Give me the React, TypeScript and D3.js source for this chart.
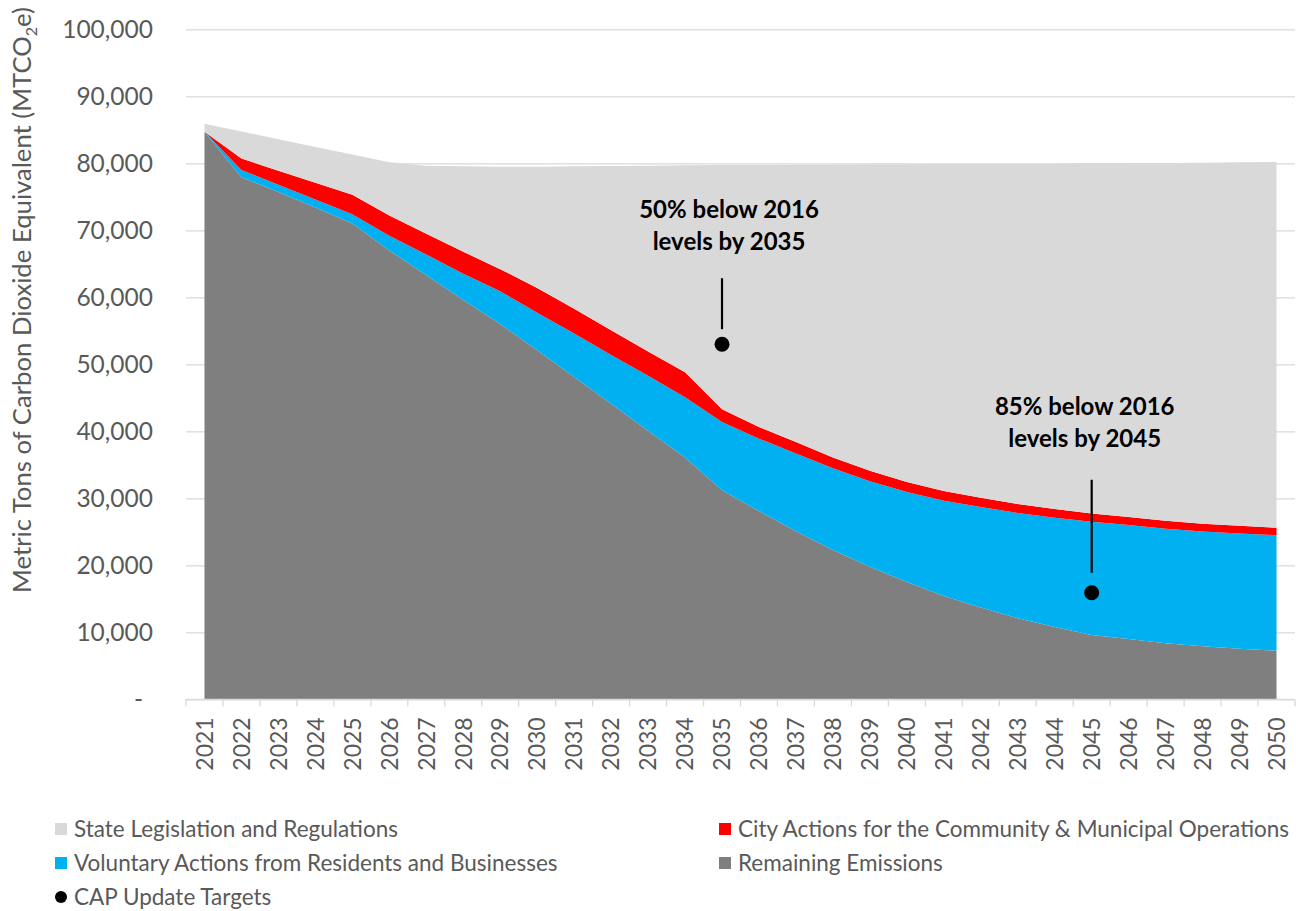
import { useEffect, useRef } from "react";
import * as d3 from "d3";

// categories
const YEARS = [
	2021, 2022, 2023, 2024, 2025, 2026, 2027, 2028, 2029, 2030,
	2031, 2032, 2033, 2034, 2035, 2036, 2037, 2038, 2039, 2040,
	2041, 2042, 2043, 2044, 2045, 2046, 2047, 2048, 2049, 2050,
];

// series values (MTCO2e), stacked bottom -> top
const REMAINING = [
	84700, 77900, 75700, 73400, 71000, 67000, 63300, 59600, 56000, 52100,
	48100, 44100, 40100, 36100, 31200, 28100, 25100, 22300, 19800, 17500,
	15400, 13700, 12100, 10800, 9600, 9000, 8350, 7900, 7550, 7250,
];
const VOLUNTARY = [
	0, 1100, 1100, 1200, 1400, 2200, 3100, 3900, 4900, 5600,
	6500, 7300, 8200, 9000, 10200, 10800, 11600, 12200, 12750, 13450,
	14250, 15000, 15700, 16300, 16900, 17000, 17100, 17150, 17200, 17250,
];
const CITY = [
	0, 1700, 2100, 2500, 2900, 3000, 3100, 3300, 3300, 3700,
	3700, 3700, 3600, 3700, 1900, 1750, 1700, 1600, 1550, 1500,
	1450, 1400, 1350, 1300, 1250, 1200, 1200, 1150, 1150, 1100,
];
const STATE = [
	1200, 4050, 4700, 5350, 6000, 7950, 10150, 12750, 15300, 18100,
	21250, 24500, 27750, 30900, 36450, 39100, 41400, 43700, 45750, 47400,
	48800, 49800, 50800, 51550, 52250, 52800, 53400, 53900, 54250, 54600,
];

// CAP update targets
const TARGET_YEARS = [2035, 2045];
const TARGET_VALUES = [53000, 15900];
const TARGET_LABELS = [
	["50% below 2016", "levels by 2035"],
	["85% below 2016", "levels by 2045"],
];

const Y_TICKS = [0, 10000, 20000, 30000, 40000, 50000, 60000, 70000, 80000, 90000, 100000];

const SERIES = [
	{ key: "remaining", name: "Remaining Emissions", color: "#7f7f7f" },
	{ key: "voluntary", name: "Voluntary Actions from Residents and Businesses", color: "#00b0f0" },
	{ key: "city", name: "City Actions for the Community & Municipal Operations", color: "#ff0000" },
	{ key: "state", name: "State Legislation and Regulations", color: "#d9d9d9" },
];

const FONT = "Lato, 'Open Sans', sans-serif";
const TEXT = "#595959";

export default function App() {
	const ref = useRef<SVGSVGElement>(null);

	useEffect(() => {
		document.body.style.margin = "0";
		const svg = d3.select(ref.current);
		svg.selectAll("*").remove();

		const left = 186, right = 1295, top = 29.3, bottom = 699.3;

		const x = d3.scaleBand<number>().domain(YEARS).range([left, right]);
		const cx = (yr: number) => x(yr)! + x.bandwidth() / 2;
		const y = d3.scaleLinear().domain([0, 100000]).range([bottom, top]);

		// gridlines
		const grid = svg.append("g")
			.attr("transform", `translate(${left},0)`)
			.call(d3.axisLeft(y).tickValues(Y_TICKS).tickSize(-(right - left)).tickFormat(() => ""));
		grid.select(".domain").remove();
		grid.selectAll("line").attr("stroke", "#d9d9d9").attr("stroke-width", 1.3);

		// stacked areas
		const table = YEARS.map((yr, i) => ({
			year: yr,
			remaining: REMAINING[i],
			voluntary: VOLUNTARY[i],
			city: CITY[i],
			state: STATE[i],
		}));
		const stacked = d3.stack<any>().keys(SERIES.map(s => s.key))(table);
		const area = d3.area<any>()
			.x(d => cx(d.data.year))
			.y0(d => y(d[0]))
			.y1(d => y(d[1]));

		svg.append("g")
			.selectAll("path")
			.data(stacked)
			.enter()
			.append("path")
			.attr("d", area)
			.attr("fill", (_, i) => SERIES[i].color);

		// x axis line + tick marks on band edges
		svg.append("line")
			.attr("x1", left).attr("x2", right)
			.attr("y1", bottom).attr("y2", bottom)
			.attr("stroke", "#d9d9d9").attr("stroke-width", 1.3);
		const edges = YEARS.map(yr => x(yr)!).concat([x(YEARS[YEARS.length - 1])! + x.bandwidth()]);
		svg.append("g")
			.selectAll("line")
			.data(edges)
			.enter()
			.append("line")
			.attr("x1", d => d).attr("x2", d => d)
			.attr("y1", bottom).attr("y2", bottom + 7)
			.attr("stroke", "#d9d9d9").attr("stroke-width", 1.3);

		// x labels (rotated)
		const xAxis = svg.append("g")
			.attr("transform", `translate(0,${bottom})`)
			.call(d3.axisBottom(x).tickSize(0).tickFormat(d => String(d)));
		xAxis.select(".domain").remove();
		xAxis.selectAll("text")
			.attr("transform", "rotate(-90)")
			.attr("text-anchor", "end")
			.attr("x", -18)
			.attr("y", 0)
			.attr("dy", "0.36em")
			.attr("fill", TEXT)
			.attr("font-family", FONT)
			.attr("font-size", 23);

		// y labels
		const yAxis = svg.append("g")
			.attr("transform", `translate(${left},0)`)
			.call(d3.axisLeft(y).tickValues(Y_TICKS).tickSize(0).tickPadding(33)
				.tickFormat(d => (+d === 0 ? "-" : d3.format(",")(+d))));
		yAxis.select(".domain").remove();
		yAxis.selectAll("text")
			.attr("fill", TEXT)
			.attr("font-family", FONT)
			.attr("font-size", 24.5)
			.attr("dx", (d: any) => (d === 0 ? -10 : 0));

		// y title
		const title = svg.append("text")
			.attr("transform", "translate(22,300) rotate(-90)")
			.attr("text-anchor", "middle")
			.attr("dy", "0.35em")
			.attr("fill", TEXT)
			.attr("font-family", FONT)
			.attr("font-size", 25.7);
		title.append("tspan").text("Metric Tons of Carbon Dioxide Equivalent (MTCO");
		title.append("tspan").attr("font-size", 16).attr("dy", 6).text("2");
		title.append("tspan").attr("dy", -6).text("e)");

		// targets + annotations
		const notes = [
			{ lineTop: -66, lineBottom: -15, textY: -135, dx: 7 },
			{ lineTop: -113, lineBottom: -20, textY: -186, dx: -7 },
		];
		TARGET_YEARS.forEach((yr, i) => {
			const px = cx(yr);
			const py = y(TARGET_VALUES[i]);
			const n = notes[i];
			svg.append("line")
				.attr("x1", px).attr("x2", px)
				.attr("y1", py + n.lineTop).attr("y2", py + n.lineBottom)
				.attr("stroke", "#000").attr("stroke-width", 2.2);
			svg.append("circle")
				.attr("cx", px).attr("cy", py).attr("r", 7.5)
				.attr("fill", "#000");
			TARGET_LABELS[i].forEach((line, j) => {
				svg.append("text")
					.attr("x", px + n.dx)
					.attr("y", py + n.textY + j * 32)
					.attr("dy", "0.35em")
					.attr("text-anchor", "middle")
					.attr("font-family", FONT)
					.attr("font-weight", "bold")
					.attr("font-size", 24)
					.attr("fill", "#000")
					.text(line);
			});
		});

		// legend
		const legendItems = [
			{ name: SERIES[3].name, color: SERIES[3].color, col: 0, row: 0, dot: false },
			{ name: SERIES[2].name, color: SERIES[2].color, col: 1, row: 0, dot: false },
			{ name: SERIES[1].name, color: SERIES[1].color, col: 0, row: 1, dot: false },
			{ name: SERIES[0].name, color: SERIES[0].color, col: 1, row: 1, dot: false },
			{ name: "CAP Update Targets", color: "#000", col: 0, row: 2, dot: true },
		];
		const colX = [55, 719];
		const legend = svg.append("g");
		legendItems.forEach(it => {
			const g = legend.append("g")
				.attr("transform", `translate(${colX[it.col]},${829 + it.row * 34})`);
			if (it.dot) {
				g.append("circle").attr("cx", 6).attr("cy", 0).attr("r", 6).attr("fill", it.color);
			} else {
				g.append("rect").attr("x", 0).attr("y", -6).attr("width", 12).attr("height", 12).attr("fill", it.color);
			}
			g.append("text")
				.attr("x", 19)
				.attr("dy", "0.35em")
				.attr("fill", TEXT)
				.attr("font-family", FONT)
				.attr("font-size", 22.5)
				.text(it.name);
		});
	}, []);

	return <svg ref={ref} width={1296} height={911} style={{ display: "block" }}></svg>;
}
